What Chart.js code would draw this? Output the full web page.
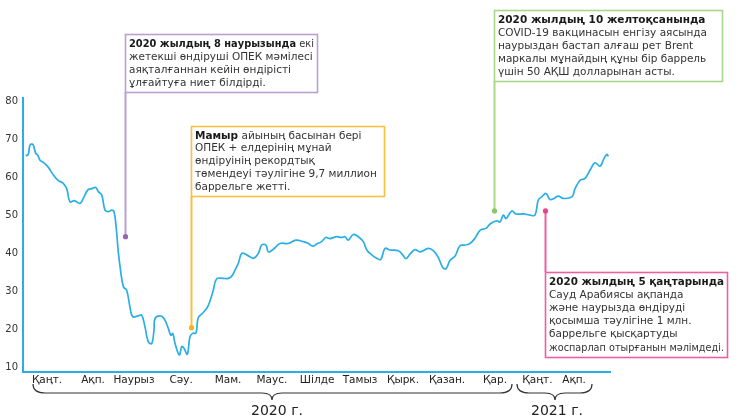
<!DOCTYPE html>
<html><head><meta charset="utf-8">
<script src="https://cdn.jsdelivr.net/npm/chart.js@4.4.1/dist/chart.umd.min.js"></script>
<style>html,body{margin:0;padding:0;background:#fff;overflow:hidden}#wrap{width:739px;height:419px;position:relative}</style>
</head><body><div id="wrap"><canvas id="c"></canvas></div>
<script>
// Brent price, USD per barrel; x = days since 1 Jan 2020
const days = [2,3.7,4.9,6.8,7.9,8.9,10.3,11.9,14.2,17.7,21.2,24.7,28.1,30.5,32.8,35.8,39.8,42.1,45.2,48,50.8,52.6,55,57.3,59.6,62,63.6,65.3,66.4,67.8,70.1,72.4,74.7,76.6,80.5,82.9,85.2,87.5,89.9,91.5,92.2,95.7,98.5,101.5,103.2,104.6,106.2,109.2,110.9,112.5,114.8,116.6,118.5,120.8,122.4,125.9,129.4,132.9,135.3,139.9,143.4,145.8,148.1,150.4,152.8,156.3,160.9,164.4,166.7,169.7,171.3,174.8,179.5,185.3,190.7,195.8,199.3,202.4,205.1,208.6,211.6,214.4,219.1,222.6,224.9,227.2,230.7,234.2,237.7,240.1,243.6,247.1,249.9,252.9,256.3,262.1,265.2,267.5,270.3,273.8,277.3,283.1,286.6,290.1,293.2,295.5,298.3,301.8,305.2,308.7,312.2,315.7,319.2,323.4,326.7,330.9,333.2,335.5,337.4,341.4,344.4,349.5,354.1,357.6,359.9,362.3,365.3,368.1,370.9,373.9,377.4,383.3,385.6,389.1,392.6,396.1,399.5,403,405.8,407.7,408.9];
const prices = [65.7,66.2,68.6,68.8,67.7,66.4,65.9,64.6,64.0,62.7,60.7,59.2,58.5,57.1,53.6,53.9,53.2,54.5,56.7,57.1,57.4,56.3,55.4,51.4,51.0,51.4,51.0,46.0,41.0,36.5,31.2,30.3,25.9,23.3,23.5,23.7,20.6,16.7,16.2,19.8,22.8,23.5,22.8,20.2,18.4,18.9,16.2,13.2,15.4,14.9,13.4,18.0,18.9,19.0,23.0,24.4,26.2,30.3,33.3,33.4,33.4,34.0,35.6,37.4,40.0,39.6,38.7,40.0,42.2,42.2,40.4,41.1,42.6,42.6,43.5,43.1,42.6,41.9,42.5,43.1,44.2,43.9,44.4,44.2,44.4,43.5,45.0,44.4,43.1,40.9,39.6,38.7,38.4,41.3,40.9,40.7,39.6,38.6,39.8,41.0,40.4,41.3,40.7,38.9,36.3,36.0,38.2,39.3,42.0,42.2,42.6,44.0,46.1,46.6,47.9,48.6,48.3,50.1,49.2,51.2,50.4,50.4,50.1,50.1,54.1,54.9,55.8,54.2,54.5,55.1,54.5,54.9,57.1,59.3,59.8,62.0,63.9,63.0,65.0,66.1,65.6];
const monthTickDays = [16.8,48.9,77.5,110.4,143.2,173.9,205.4,235.4,265.4,296.2,329.7,359.3,384.9];
const monthLabels = ['Қаңт.','Ақп.','Наурыз','Сәу.','Мам.','Маус.','Шілде','Тамыз','Қырк.','Қазан.','Қар.','Қаңт.','Ақп.'];
const yTickValues = [10,20,30,40,50,60,70,80];
const yearLabels = ['2020 г.','2021 г.'];
const noteDays = [71.2,117.3,329,364.6];
const noteValues = [44.4,20.4,51.2,51.2];
const noteBold = ['2020 жылдың 8 наурызында','Мамыр','2020 жылдың 10 желтоқсанында','2020 жылдың 5 қаңтарында'];
const noteFirstRest = [' екі',' айының басынан бері','',''];
const noteLines = [
  ['жетекші өндіруші ОПЕК мәмілесі','аяқталғаннан кейін өндірісті','ұлғайтуға ниет білдірді.'],
  ['ОПЕК + елдерінің мұнай','өндіруінің рекордтық','төмендеуі тәулігіне 9,7 миллион','баррельге жетті.'],
  ['COVID-19 вакцинасын енгізу аясында','наурыздан бастап алғаш рет Brent','маркалы мұнайдың құны бір баррель','үшін 50 АҚШ долларынан асты.'],
  ['Сауд Арабиясы ақпанда','және наурызда өндіруді','қосымша тәулігіне 1 млн.','баррельге қысқартуды','жоспарлап отырғанын мәлімдеді.']
];

const FONT = '"DejaVu Sans", sans-serif';
const BLUE = '#29aee6';
const noteStyle = [
  {color:'#b9a0d0', dot:'#9467b0', top:34, bottom:92, right:317},
  {color:'#f9c040', dot:'#f6b21c', top:126, bottom:196, right:384},
  {color:'#a9d68c', dot:'#8cc765', top:10, bottom:81, right:722},
  {color:'#ec5fa2', dot:'#e5458f', top:272, bottom:357, right:727}
];

const overlay = {
  id:'overlay',
  afterDraw(chart){
    const ctx = chart.ctx, xs = chart.scales.x, ys = chart.scales.y;
    ctx.save();
    noteDays.forEach((d,i)=>{
      const st = noteStyle[i];
      const px = Math.round(xs.getPixelForValue(d));
      const py = ys.getPixelForValue(noteValues[i]);
      const left = px;
      ctx.strokeStyle = st.color; ctx.lineWidth = 1.6;
      ctx.strokeRect(left+0.5, st.top+0.5, st.right-left, st.bottom-st.top);
      ctx.beginPath();
      if (st.top > py) { ctx.moveTo(px+0.5, py); ctx.lineTo(px+0.5, st.top); }
      else { ctx.moveTo(px+0.5, st.bottom); ctx.lineTo(px+0.5, py); }
      ctx.lineWidth = 2; ctx.stroke();
      ctx.fillStyle = st.dot;
      ctx.beginPath(); ctx.arc(px+0.5, py, 2.6, 0, Math.PI*2); ctx.fill();
      const boxW = st.right - left - 7;
      const size = 10.5;
      const n = noteLines[i].length + 1;
      const lh = (st.bottom - st.top - 6) / n;
      let y = st.top + 3 + lh/2 + 0.5;
      const tx = left + 4;
      ctx.textBaseline = 'middle'; ctx.textAlign = 'left';
      ctx.font = 'bold '+size+'px '+FONT;
      const bw0 = ctx.measureText(noteBold[i]).width;
      ctx.font = size+'px '+FONT;
      const rw0 = ctx.measureText(noteFirstRest[i]).width;
      const k = Math.min(1, boxW/(bw0+rw0));
      ctx.fillStyle = '#1a1a1a';
      ctx.font = 'bold '+size+'px '+FONT;
      ctx.fillText(noteBold[i], tx, y, bw0*k);
      ctx.fillStyle = '#333';
      ctx.font = size+'px '+FONT;
      if (noteFirstRest[i]) ctx.fillText(noteFirstRest[i], tx+bw0*k, y, rw0*k);
      noteLines[i].forEach(t=>{ y += lh; ctx.fillText(t, tx, y, boxW); });
    });
    ctx.strokeStyle = '#333'; ctx.lineWidth = 1.2;
    const brace = (x1,x2,xm,yt,yb,ytip)=>{
      ctx.beginPath();
      ctx.moveTo(x1,yt);
      ctx.quadraticCurveTo(x1,yb,x1+12,yb);
      ctx.lineTo(xm-10,yb);
      ctx.quadraticCurveTo(xm,yb,xm,ytip);
      ctx.quadraticCurveTo(xm,yb,xm+10,yb);
      ctx.lineTo(x2-12,yb);
      ctx.quadraticCurveTo(x2,yb,x2,yt);
      ctx.stroke();
    };
    brace(33,512,272,384,393,400);
    brace(517,592,555,384,393,400);
    ctx.fillStyle = '#222'; ctx.font = '14px '+FONT;
    ctx.textAlign = 'center'; ctx.textBaseline = 'middle';
    ctx.fillText(yearLabels[0], 277, 411);
    ctx.fillText(yearLabels[1], 557, 411);
    ctx.restore();
  }
};

new Chart(document.getElementById('c'), {
  type:'line',
  data:{ datasets:[{
    data: days.map((d,i)=>({x:d, y:prices[i]})),
    borderColor: BLUE, borderWidth:1.7, pointRadius:0, tension:0.4, fill:false
  }]},
  options:{
    responsive:true, maintainAspectRatio:false, animation:false,
    layout:{ padding:{ top:98, right:129, bottom:0, left:0 } },
    plugins:{ legend:{display:false}, tooltip:{enabled:false} },
    scales:{
      x:{
        type:'linear', min:0, max:410,
        grid:{ display:false, drawTicks:false },
        border:{ display:true, color:BLUE, width:2 },
        afterBuildTicks(s){ s.ticks = monthTickDays.map(v=>({value:v})); },
        afterFit(s){ s.height = 47; },
        ticks:{ autoSkip:false, maxRotation:0, padding:2, color:'#222',
          font:{ family:FONT, size:10.5 },
          callback:(v,i)=>monthLabels[i] }
      },
      y:{
        min:8.7, max:81,
        grid:{ display:false, drawTicks:false },
        border:{ display:true, color:BLUE, width:2 },
        afterBuildTicks(s){ s.ticks = yTickValues.map(v=>({value:v})); },
        afterFit(s){ s.width = 23; },
        ticks:{ padding:5, color:'#333', font:{ family:FONT, size:10 } }
      }
    }
  },
  plugins:[overlay]
});
</script>
</body></html>
